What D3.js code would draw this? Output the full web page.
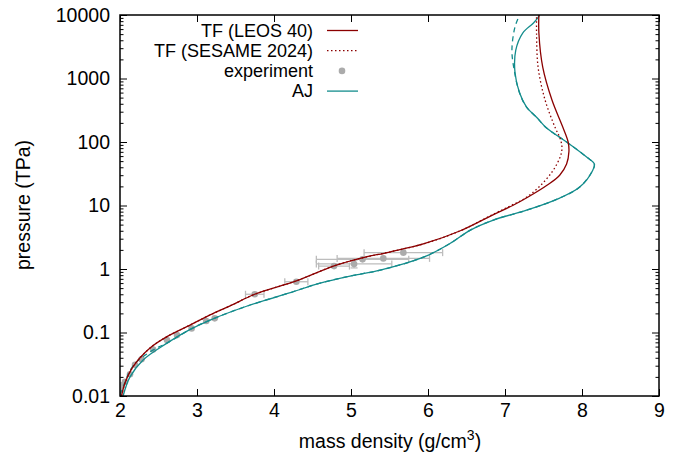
<!DOCTYPE html>
<html><head><meta charset="utf-8">
<script src="https://cdn.jsdelivr.net/npm/d3@7"></script>
<style>
html,body{margin:0;padding:0;background:#fff;}
text{font-family:"Liberation Sans",Arial,sans-serif;}
</style></head>
<body><svg id="c" width="680" height="456"></svg>
<script>
// ---- data ----
const xTicks = [2,3,4,5,6,7,8,9];
const yTicks = [0.01,0.1,1,10,100,1000,10000];
const yTickLabels = ["0.01","0.1","1","10","100","1000","10000"];
const legendLabels = ["TF (LEOS 40)","TF (SESAME 2024)","experiment","AJ"];

const leosRho = [2.02,2.065,2.17,2.39,2.61,2.91,3.17,3.45,3.75,4.29,4.78,5.12,5.5,5.95,6.42,6.85,7.1,7.3,7.55,7.71,7.80,7.83,7.82,7.75,7.61,7.49,7.44,7.44];
const leosP   = [0.0100,0.016,0.029,0.057,0.086,0.131,0.189,0.27,0.40,0.65,1.12,1.47,1.85,2.5,4.0,7.2,10,13.6,21,30,45,70,100,172,458,1510,5200,10000];

const sesRho = [2.02,2.065,2.17,2.39,2.61,2.91,3.17,3.45,3.75,4.29,4.78,5.12,5.5,5.95,6.42,6.85,7.08,7.26,7.45,7.62,7.72,7.74,7.72,7.65,7.52,7.43,7.41,7.41];
const sesP   = [0.0100,0.016,0.029,0.057,0.086,0.131,0.189,0.27,0.40,0.65,1.12,1.47,1.85,2.5,4.0,7.3,10,13,20,35,60,80,110,170,460,1500,5000,10000];

const ajRho = [2.04,2.13,2.30,2.61,2.9,3.17,3.69,4.2,4.60,5.0,5.38,5.95,6.29,6.55,6.85,7.29,7.71,7.97,8.14,8.16,8.06,7.80,7.54,7.41,7.28,7.19,7.13,7.14,7.23,7.37,7.44,7.45];
const ajP   = [0.0100,0.020,0.037,0.068,0.11,0.157,0.271,0.42,0.60,0.78,0.96,1.55,2.54,4.1,5.9,8.5,13.1,19.5,36,45,58,100,166,245,355,590,1230,2800,5200,7500,9500,10000];

const ajBRho = [2.0,2.06,2.12,2.2,2.35,2.5,2.61,2.9,3.17,3.69,4.2,4.60,5.0,5.38,5.95,6.29,6.55,6.85,7.29,7.71,7.97,8.14,8.16,8.06,7.80,7.54,7.41,7.28,7.19,7.12,7.09,7.13,7.19];
const ajBP   = [0.0105,0.016,0.024,0.033,0.046,0.059,0.068,0.11,0.157,0.271,0.42,0.60,0.78,0.96,1.55,2.54,4.1,5.9,8.5,13.1,19.5,36,45,58,100,166,245,355,590,1350,2800,6500,10000];

const expRho    = [1.98,2.0,2.02,2.065,2.13,2.195,2.28,2.43,2.61,2.74,2.93,3.12,3.23,3.75,4.29,4.78,5.04,5.15,5.42,5.68];
const expP      = [0.0115,0.0126,0.0147,0.0168,0.022,0.031,0.038,0.054,0.076,0.091,0.116,0.152,0.167,0.40,0.63,1.11,1.20,1.42,1.47,1.81];
const expRhoErr = [0,0,0,0,0,0,0,0,0,0,0,0,0,0.12,0.15,0.2,0.49,0.6,0.6,0.51];
const expPLo    = [null,null,null,null,null,null,null,null,null,null,null,null,null,null,null,null,1.04,null,null,null];
const expPHi    = [null,null,null,null,null,null,null,null,null,null,null,null,null,null,null,null,1.38,null,null,null];

// ---- layout ----
const L=120,R=659,T=15,B=396;
const FS="19.5px", LFS="18px";
const svg = d3.select("#c");
const x = d3.scaleLinear().domain([2,9]).range([L,R]);
const y = d3.scaleLog().domain([0.01,10000]).range([B,T]);
const red="#8b0000", teal="#138c8c", gray="#ababab", egray="#bdbdbd";

svg.append("defs").append("clipPath").attr("id","clip")
  .append("rect").attr("x",L).attr("y",T).attr("width",R-L).attr("height",B-T);

const minor=[];
for(let e=-2;e<4;e++) for(let m=2;m<10;m++) minor.push(m*Math.pow(10,e));

function styleAxis(g){ g.select(".domain").remove(); g.selectAll("line").attr("stroke","#000").attr("stroke-width",1);
  g.selectAll("text").attr("font-size",FS).attr("fill","#000").style("font-family","Liberation Sans, Arial, sans-serif"); }

svg.append("g").attr("transform",`translate(0,${B})`)
  .call(d3.axisBottom(x).tickValues(xTicks).tickFormat(d3.format("d")).tickSize(-7).tickPadding(7)).call(styleAxis);
svg.append("g").attr("transform",`translate(0,${T})`)
  .call(d3.axisTop(x).tickValues(xTicks).tickFormat("").tickSize(-7)).call(styleAxis);
svg.append("g").attr("transform",`translate(${L},0)`)
  .call(d3.axisLeft(y).tickValues(yTicks).tickFormat((d,i)=>yTickLabels[i]).tickSize(-7).tickPadding(10)).call(styleAxis);
svg.append("g").attr("transform",`translate(${L},0)`)
  .call(d3.axisLeft(y).tickValues(minor).tickFormat("").tickSize(-3.5)).call(styleAxis);
svg.append("g").attr("transform",`translate(${R},0)`)
  .call(d3.axisRight(y).tickValues(yTicks).tickFormat("").tickSize(-7)).call(styleAxis);
svg.append("g").attr("transform",`translate(${R},0)`)
  .call(d3.axisRight(y).tickValues(minor).tickFormat("").tickSize(-3.5)).call(styleAxis);

const plot = svg.append("g").attr("clip-path","url(#clip)");

const expIdx = d3.range(expRho.length);
const eb = plot.append("g").attr("stroke",egray).attr("stroke-width",1.3).attr("fill","none");
expIdx.filter(i=>expRhoErr[i]>0).forEach(i=>{
  const x0=x(expRho[i]-expRhoErr[i]), x1=x(expRho[i]+expRhoErr[i]), yy=y(expP[i]);
  eb.append("line").attr("x1",x0).attr("x2",x1).attr("y1",yy).attr("y2",yy);
  eb.append("line").attr("x1",x0).attr("x2",x0).attr("y1",yy-3.5).attr("y2",yy+3.5);
  eb.append("line").attr("x1",x1).attr("x2",x1).attr("y1",yy-3.5).attr("y2",yy+3.5);
});
expIdx.filter(i=>expPLo[i]!=null).forEach(i=>{
  const xx=x(expRho[i]), y0=y(expPLo[i]), y1=y(expPHi[i]);
  eb.append("line").attr("x1",xx).attr("x2",xx).attr("y1",y0).attr("y2",y1);
  eb.append("line").attr("x1",xx-3.5).attr("x2",xx+3.5).attr("y1",y0).attr("y2",y0);
  eb.append("line").attr("x1",xx-3.5).attr("x2",xx+3.5).attr("y1",y1).attr("y2",y1);
});
plot.append("g").selectAll("circle").data(expIdx).join("circle")
  .attr("cx",i=>x(expRho[i])).attr("cy",i=>y(expP[i])).attr("r",3.3).attr("fill",gray);

const line = d3.line().x(d=>x(d[0])).y(d=>y(d[1])).curve(d3.curveCatmullRom.alpha(0.5));
const zip=(a,b)=>a.map((v,i)=>[v,b[i]]);

plot.append("path").attr("d",line(zip(ajBRho,ajBP))).attr("fill","none").attr("stroke",teal).attr("stroke-width",1.3).attr("stroke-dasharray","5,4");
plot.append("path").attr("d",line(zip(ajRho,ajP))).attr("fill","none").attr("stroke",teal).attr("stroke-width",1.3);
plot.append("path").attr("d",line(zip(sesRho,sesP))).attr("fill","none").attr("stroke",red).attr("stroke-width",1.3).attr("stroke-dasharray","1.5,2.5");
plot.append("path").attr("d",line(zip(leosRho,leosP))).attr("fill","none").attr("stroke",red).attr("stroke-width",1.3);

svg.append("rect").attr("x",L).attr("y",T).attr("width",R-L).attr("height",B-T)
  .attr("fill","none").attr("stroke","#000").attr("stroke-width",1.5);

const lgY=[30.5,50.7,70.9,91.1];
const lg = svg.append("g");
legendLabels.forEach((t,i)=>{
  lg.append("text").attr("x",313).attr("y",lgY[i]).attr("text-anchor","end").attr("dominant-baseline","central")
    .attr("font-size",LFS).attr("textLength",null).text(t);
});
lg.append("line").attr("x1",327).attr("x2",358).attr("y1",lgY[0]).attr("y2",lgY[0]).attr("stroke",red).attr("stroke-width",1.3);
lg.append("line").attr("x1",327).attr("x2",358).attr("y1",lgY[1]).attr("y2",lgY[1]).attr("stroke",red).attr("stroke-width",1.3).attr("stroke-dasharray","1.5,2.5");
lg.append("circle").attr("cx",342).attr("cy",lgY[2]).attr("r",3.3).attr("fill",gray);
lg.append("line").attr("x1",327).attr("x2",358).attr("y1",lgY[3]).attr("y2",lgY[3]).attr("stroke",teal).attr("stroke-width",1.3);

const xt = svg.append("text").attr("x",390).attr("y",448).attr("text-anchor","middle").attr("font-size",FS);
xt.append("tspan").text("mass density (g/cm");
xt.append("tspan").attr("dy",-8).attr("font-size","14px").text("3");
xt.append("tspan").attr("dy",8).text(")");
svg.append("text").attr("transform","translate(30,205) rotate(-90)").attr("text-anchor","middle")
  .attr("font-size",FS).text("pressure (TPa)");
</script></body></html>
